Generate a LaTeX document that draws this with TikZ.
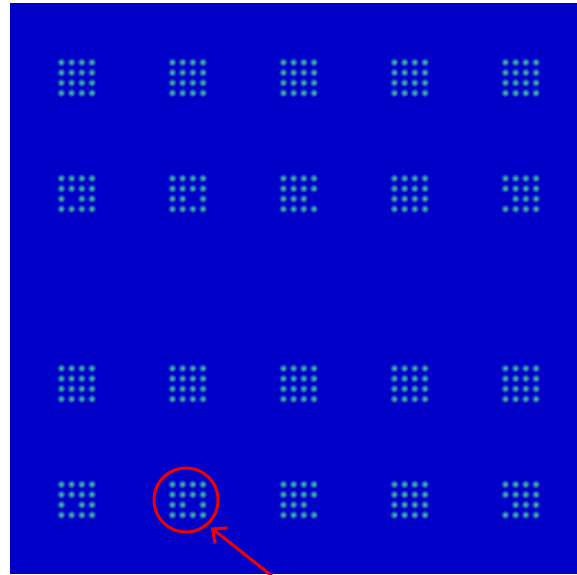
\documentclass[tikz,border=0pt]{standalone}
\usetikzlibrary{arrows.meta}
\definecolor{bgblue}{RGB}{0,0,200}
\definecolor{dotcol}{RGB}{70,210,160}
\definecolor{mark}{RGB}{240,0,0}
\begin{document}
\begin{tikzpicture}[x=1pt,y=-1pt,
  spot/.style={inner color=dotcol, outer color=bgblue},
  ring/.style={draw=mark, line width=3pt, circle, minimum size=64pt, inner sep=0pt},
  pointer/.style={draw=mark, line width=3pt, -{Straight Barb[length=11pt,width=20pt]}}]
\useasboundingbox (0,0) rectangle (577,574);
\fill[white] (0,0) rectangle (577,574);
\fill[bgblue] (10,3) rectangle (577,574);
\foreach \cx/\miss in {61/1,172/2,283/3,394/9,505/0}{
  \foreach \ry [count=\ri] in {62,178,368,484}{
    \foreach \i in {0,...,3}{
      \foreach \j in {0,...,3}{
        \pgfmathtruncatemacro{\skipdot}{and(and(mod(\ri,2)==0,\j==2),\i==\miss)}
        \ifnum\skipdot=0
          \shade[spot] (\cx+\i*10.2, \ry+\j*10.2) circle (4.6pt);
        \fi
      }
    }
  }
}
\node[ring] (c) at (186,500) {};
\coordinate (s) at (272,576);
\draw[pointer] (s) -- ([shift={(2pt,-3pt)}]c.-47);
\end{tikzpicture}
\end{document}
